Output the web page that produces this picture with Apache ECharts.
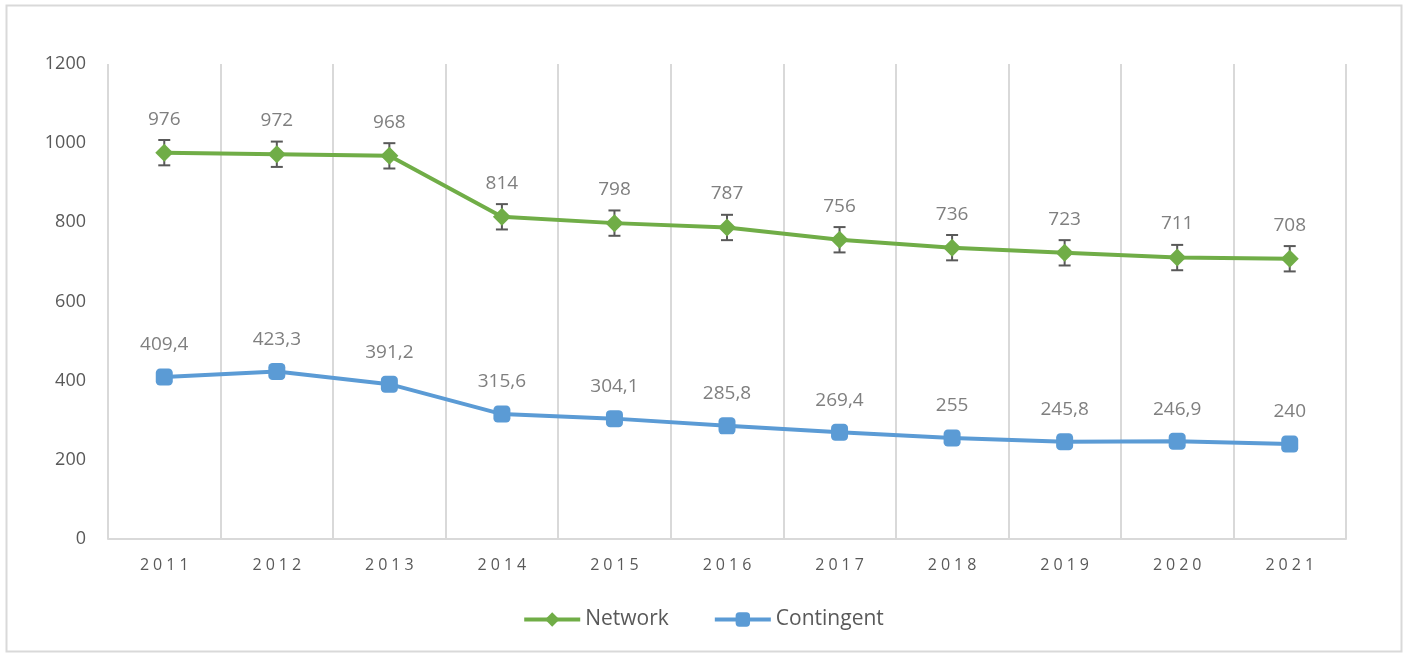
<!DOCTYPE html>
<html><head><meta charset="utf-8">
<script src="https://cdn.jsdelivr.net/npm/echarts@6/dist/echarts.min.js"></script>
<style>html,body{margin:0;padding:0;background:#fff}#c{width:1406px;height:656px}</style>
</head><body><div id="c"></div>
<script>
const years = ['2011','2012','2013','2014','2015','2016','2017','2018','2019','2020','2021'];
const network = [976, 972, 968, 814, 798, 787, 756, 736, 723, 711, 708];
const contingent = [409.4, 423.3, 391.2, 315.6, 304.1, 285.8, 269.4, 255, 245.8, 246.9, 240];
const networkError = [32, 32, 32, 32, 32, 32, 32, 32, 32, 32, 32];
const yTicks = {min: 0, max: 1200, interval: 200};

const chart = echarts.init(document.getElementById('c'));
const fmt = v => String(v).replace('.', ',');
chart.setOption({
  animation: false,
  textStyle: {fontFamily: 'Open Sans'},
  graphic: [{type: 'rect', shape: {x: 6.5, y: 5.5, width: 1395, height: 646}, style: {fill: 'none', stroke: '#d9d9d9', lineWidth: 2}, z: -1}],
  grid: {left: 108, right: 60, top: 64, bottom: 117},
  legend: {
    bottom: 21, left: 'center', itemWidth: 56, itemHeight: 18, itemGap: 44,
    lineStyle: {width: 4},
    textStyle: {fontSize: 21, color: '#595959', fontFamily: 'Open Sans'},
    data: ['Network', 'Contingent']
  },
  xAxis: {
    type: 'category', data: years, boundaryGap: true,
    axisLine: {lineStyle: {color: '#d9d9d9', width: 2}},
    axisTick: {show: false},
    splitLine: {show: true, lineStyle: {color: '#d9d9d9', width: 2}},
    axisLabel: {fontSize: 16, color: '#595959', margin: 18, formatter: v => v.split('').join('\u2005')}
  },
  yAxis: {
    type: 'value', min: yTicks.min, max: yTicks.max, interval: yTicks.interval,
    axisLine: {show: false}, axisTick: {show: false}, splitLine: {show: false},
    axisLabel: {fontSize: 18, color: '#595959', margin: 22, formatter: v => String(v)}
  },
  series: [
    {
      name: 'Network', type: 'line', data: network,
      symbol: 'diamond', symbolSize: 18,
      lineStyle: {color: '#70ad47', width: 4}, itemStyle: {color: '#70ad47'},
      label: {show: true, position: 'top', distance: 15, fontSize: 19, color: '#7f7f7f', formatter: p => fmt(p.value)},
      z: 3
    },
    {
      name: 'Contingent', type: 'line', data: contingent,
      symbol: 'roundRect', symbolSize: 17,
      lineStyle: {color: '#5b9bd5', width: 4}, itemStyle: {color: '#5b9bd5'},
      label: {show: true, position: 'top', distance: 14, fontSize: 19, color: '#7f7f7f', formatter: p => fmt(p.value)},
      z: 3
    },
    {
      name: 'err', type: 'custom', z: 2,
      data: network.map((v, i) => [i, v - networkError[i], v + networkError[i]]),
      renderItem: (params, api) => {
        const lo = api.coord([api.value(0), api.value(1)]);
        const hi = api.coord([api.value(0), api.value(2)]);
        const w = 6;
        const st = {stroke: '#595959', lineWidth: 2};
        return {type: 'group', children: [
          {type: 'line', shape: {x1: lo[0], y1: lo[1], x2: hi[0], y2: hi[1]}, style: st},
          {type: 'line', shape: {x1: lo[0]-w, y1: lo[1], x2: lo[0]+w, y2: lo[1]}, style: st},
          {type: 'line', shape: {x1: hi[0]-w, y1: hi[1], x2: hi[0]+w, y2: hi[1]}, style: st}
        ]};
      }
    }
  ]
});
</script></body></html>
